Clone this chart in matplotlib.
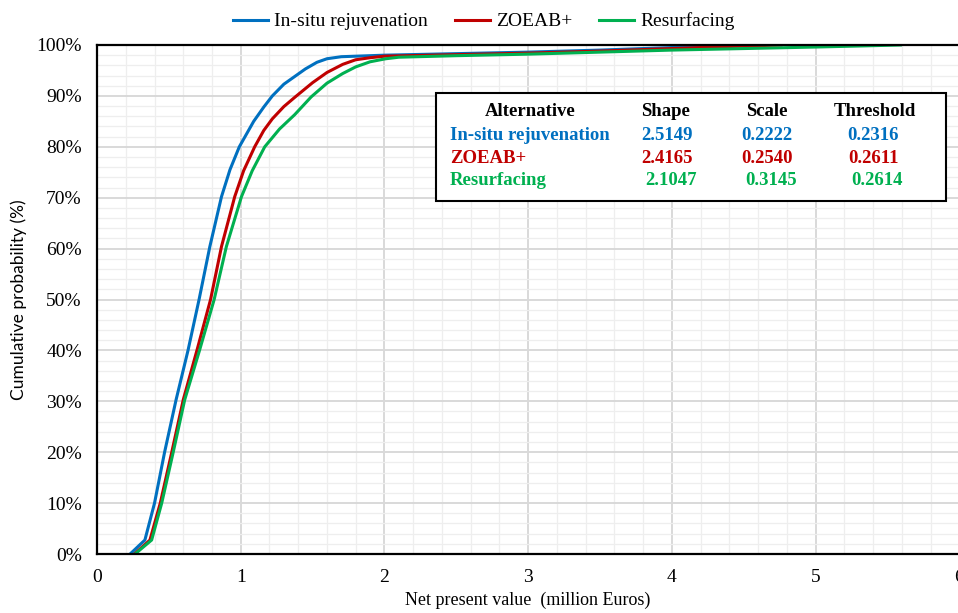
import matplotlib.pyplot as plt
import numpy as np
from matplotlib.patches import Rectangle
from matplotlib.ticker import MultipleLocator, PercentFormatter

plt.rcParams['font.family'] = ['Liberation Serif', 'DejaVu Serif']

# values: net present value (million Euros) vs cumulative %
x_insitu = [0.23, 0.333, 0.40, 0.47, 0.55, 0.633, 0.71, 0.785,
            0.866, 0.925, 0.99, 1.09, 1.16, 1.22, 1.30, 1.375, 1.45, 1.53, 1.60,
            1.70, 1.80, 2.0, 2.5, 3.0, 3.5, 4.0, 4.22]
y_insitu = [0, 2.75, 10, 20, 30.3, 40, 50, 60.4,
            70.2, 75.5, 80, 85, 87.8, 90.0, 92.3, 93.8, 95.3, 96.6, 97.3,
            97.7, 97.8, 98.0, 98.3, 98.6, 99.0, 99.5, 100]

x_zoeab = [0.26, 0.368, 0.44, 0.52, 0.60, 0.695, 0.79, 0.866,
           0.958, 1.02, 1.097, 1.16, 1.22, 1.30, 1.375, 1.50, 1.60, 1.71, 1.80,
           1.90, 2.0, 2.5, 3.0, 3.5, 4.0, 4.4, 4.76]
y_zoeab = [0, 2.75, 10, 20, 30.3, 40, 50, 60.4,
           70.2, 75.3, 80, 83.2, 85.5, 87.9, 89.7, 92.6, 94.6, 96.2, 97.1,
           97.5, 97.8, 98.1, 98.4, 98.8, 99.3, 99.7, 100]

x_resurf = [0.264, 0.38, 0.45, 0.53, 0.61, 0.713, 0.815, 0.90,
            1.005, 1.08, 1.167, 1.27, 1.375, 1.49, 1.60, 1.71, 1.80, 1.90, 2.01,
            2.1, 2.5, 3.0, 3.5, 4.0, 4.5, 5.0, 5.3, 5.59]
y_resurf = [0, 2.75, 10, 20, 30.3, 40, 50, 60.4,
            70.2, 75.3, 80, 83.5, 86.3, 89.8, 92.5, 94.4, 95.7, 96.7, 97.3,
            97.6, 97.9, 98.2, 98.6, 99.0, 99.3, 99.6, 99.8, 100]

names = ['In-situ rejuvenation', 'ZOEAB+', 'Resurfacing']
colors = ['#0070C0', '#C00000', '#00B050']
shape = ['2.5149', '2.4165', '2.1047']
scale = ['0.2222', '0.2540', '0.3145']
threshold = ['0.2316', '0.2611', '0.2614']

fig = plt.figure(figsize=(9.58, 6.13), dpi=100)
ax = fig.add_axes([0.1013, 0.0962, 0.9, 0.8304])

ax.plot(x_insitu, y_insitu, color=colors[0], lw=2.2, label=names[0])
ax.plot(x_zoeab, y_zoeab, color=colors[1], lw=2.2, label=names[1])
ax.plot(x_resurf, y_resurf, color=colors[2], lw=2.2, label=names[2])

ax.set_xlim(0, 6)
ax.set_ylim(0, 100)
ax.xaxis.set_major_locator(MultipleLocator(1))
ax.xaxis.set_minor_locator(MultipleLocator(0.2))
ax.yaxis.set_major_locator(MultipleLocator(10))
ax.yaxis.set_minor_locator(MultipleLocator(2))
ax.yaxis.set_major_formatter(PercentFormatter(decimals=0))
ax.grid(which='major', color='#d9d9d9', lw=1.4)
ax.grid(which='minor', color='#eeeeee', lw=0.9)
ax.set_axisbelow(True)
ax.tick_params(which='both', length=0, labelsize=14)
ax.tick_params(axis='y', pad=11)
ax.tick_params(axis='x', pad=11)
for s in ax.spines.values():
    s.set_linewidth(1.6)
    s.set_color('black')

ax.set_xlabel('Net present value  (million Euros)', fontsize=13, labelpad=4)
ax.set_ylabel('Cumulative probability (%)', fontsize=12.5, family=['Lato', 'DejaVu Sans'],
              labelpad=7)

fig.legend(loc='upper center', bbox_to_anchor=(0.505, 1.008), ncol=3, frameon=False,
           fontsize=14, handlelength=1.8, handletextpad=0.3, columnspacing=1.4)

# parameter table
ax.add_patch(Rectangle((0.393, 0.694), 0.592, 0.212, transform=ax.transAxes,
                       facecolor='white', edgecolor='black', lw=1.5, zorder=5))
tk = dict(transform=ax.transAxes, fontsize=13.5, fontweight='bold', va='center', zorder=6)
ax.text(0.502, 0.869, 'Alternative', ha='center', **tk)
ax.text(0.659, 0.869, 'Shape', ha='center', **tk)
ax.text(0.777, 0.869, 'Scale', ha='center', **tk)
ax.text(0.9026, 0.869, 'Threshold', ha='center', **tk)
rows_y = [0.823, 0.778, 0.733]
for i in range(3):
    dx = 0.005 if i == 2 else 0.0
    ax.text(0.4095, rows_y[i], names[i], ha='left', color=colors[i], **tk)
    ax.text(0.661 + dx, rows_y[i], shape[i], ha='center', color=colors[i], **tk)
    ax.text(0.777 + dx, rows_y[i], scale[i], ha='center', color=colors[i], **tk)
    ax.text(0.900 + dx, rows_y[i], threshold[i], ha='center', color=colors[i], **tk)

fig.savefig('out.png', dpi=100)
